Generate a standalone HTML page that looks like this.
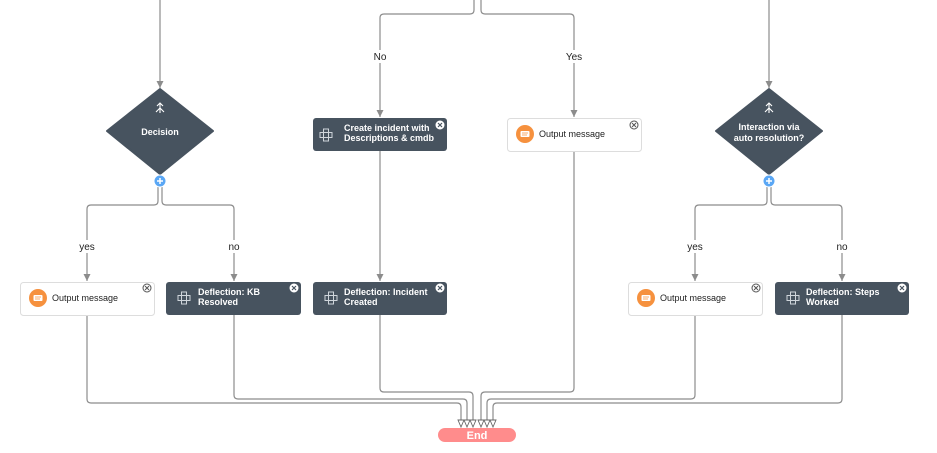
<!DOCTYPE html>
<html><head><style>
html,body{margin:0;padding:0;background:#fff;}
svg{display:block;font-family:"Liberation Sans",sans-serif;}
.l{fill:none;stroke:#8c8c8c;stroke-width:1.2;}
.lbl{font-size:10px;fill:#222;text-anchor:middle;}
.wt{font-size:9px;fill:#fff;font-weight:bold;}
.bt{font-size:9px;fill:#222;}
</style></head><body>
<svg width="937" height="453" viewBox="0 0 937 453" xmlns="http://www.w3.org/2000/svg">
<defs>
<marker id="a" markerWidth="8" markerHeight="8" refX="7" refY="4" orient="auto" markerUnits="userSpaceOnUse">
<path d="M0,0.5 L7,4 L0,7.5 z" fill="#8c8c8c"/></marker>
<g id="x"><circle r="4" fill="#fff" stroke="#555" stroke-width="1"/><path d="M-2,-2L2,2M2,-2L-2,2" stroke="#555" stroke-width="1"/></g>
<g id="xd"><circle r="4" fill="#fff" stroke="#fff"/><path d="M-2,-2L2,2M2,-2L-2,2" stroke="#47535f" stroke-width="1.2"/></g>
<g id="grid"><path d="M-2.5,-6H2.5V6H-2.5ZM-6,-2.5H6V2.5H-6Z" fill="none" stroke="#cfd5db" stroke-width="1"/></g>
<g id="msg"><circle r="9" fill="#f6913e"/><rect x="-4.5" y="-3" width="9" height="6" rx="1" fill="#fff"/><path d="M-3,-1H3M-3,1H2" stroke="#f6913e" stroke-width="0.7"/></g>
<g id="split"><path d="M0,6V-4M-3,-1L0,-4L3,-1M0,1L-4,5M0,1L4,5" fill="none" stroke="#fff" stroke-width="1.1"/></g>
<g id="plus"><circle r="6" fill="#5aa7f5" stroke="#fff" stroke-width="1"/><path d="M-3,0H3M0,-3V3" stroke="#fff" stroke-width="1.5"/></g>
</defs>

<path class="l" d="M160 0V88" marker-end="url(#a)"/>
<path class="l" d="M769 0V88" marker-end="url(#a)"/>
<path class="l" d="M474 0V10Q474 14 470 14H384Q380 14 380 18V117" marker-end="url(#a)"/>
<path class="l" d="M481 0V10Q481 14 485 14H570Q574 14 574 18V117" marker-end="url(#a)"/>
<rect x="370" y="50" width="20" height="13" fill="#fff"/><text class="lbl" x="380" y="60">No</text>
<rect x="562" y="50" width="24" height="13" fill="#fff"/><text class="lbl" x="574" y="60">Yes</text>

<path class="l" d="M158 185V201Q158 205 154 205H91Q87 205 87 209V281" marker-end="url(#a)"/>
<path class="l" d="M162 185V201Q162 205 166 205H230Q234 205 234 209V281" marker-end="url(#a)"/>
<path class="l" d="M767 185V201Q767 205 763 205H699Q695 205 695 209V281" marker-end="url(#a)"/>
<path class="l" d="M771 185V201Q771 205 775 205H838Q842 205 842 209V281" marker-end="url(#a)"/>
<rect x="77" y="240" width="20" height="13" fill="#fff"/><text class="lbl" x="87" y="250">yes</text>
<rect x="225" y="240" width="18" height="13" fill="#fff"/><text class="lbl" x="234" y="250">no</text>
<rect x="685" y="240" width="20" height="13" fill="#fff"/><text class="lbl" x="695" y="250">yes</text>
<rect x="833" y="240" width="18" height="13" fill="#fff"/><text class="lbl" x="842" y="250">no</text>
<path class="l" d="M380 151V281" marker-end="url(#a)"/>

<path class="l" d="M87 315V399Q87 403 91 403H457Q461 403 461 407V420"/>
<path class="l" d="M234 315V395Q234 399 238 399H463Q467 399 467 403V420"/>
<path class="l" d="M380 315V388Q380 392 384 392H469Q473 392 473 396V420"/>
<path class="l" d="M574 151V388Q574 392 570 392H485Q481 392 481 396V420"/>
<path class="l" d="M695 315V395Q695 399 691 399H491Q487 399 487 403V420"/>
<path class="l" d="M842 315V399Q842 403 838 403H497Q493 403 493 407V420"/>
<g fill="#fff" stroke="#666" stroke-width="0.9">
<path d="M458 420H464L461 427Z"/><path d="M464 420H470L467 427Z"/><path d="M470 420H476L473 427Z"/>
<path d="M478 420H484L481 427Z"/><path d="M484 420H490L487 427Z"/><path d="M490 420H496L493 427Z"/>
</g>
<rect x="438" y="428" width="78" height="14" rx="7" fill="#ff8c8c"/>
<text x="477" y="439" font-size="11" font-weight="bold" fill="#fff" text-anchor="middle">End</text>

<path d="M160 89L213 131L160 174L107 131Z" fill="#47535f" stroke="#47535f" stroke-linejoin="round" stroke-width="2"/>
<use href="#split" x="160" y="107"/>
<text class="wt" x="160" y="135" text-anchor="middle">Decision</text>
<use href="#plus" x="160" y="181"/>
<path d="M769 89L822 131L769 174L716 131Z" fill="#47535f" stroke="#47535f" stroke-linejoin="round" stroke-width="2"/>
<use href="#split" x="769" y="107"/>
<text class="wt" x="769" y="130" text-anchor="middle">Interaction via</text>
<text class="wt" x="769" y="141" text-anchor="middle">auto resolution?</text>
<use href="#plus" x="769" y="181"/>

<rect x="313" y="118" width="134" height="33" rx="3" fill="#47535f"/>
<use href="#grid" x="326" y="135"/>
<text class="wt" x="344" y="131">Create incident with</text>
<text class="wt" x="344" y="141">Descriptions &amp; cmdb</text>
<use href="#xd" x="440" y="125"/>

<rect x="507.5" y="118.5" width="134" height="33" rx="3" fill="#fff" stroke="#ddd"/>
<use href="#msg" x="525" y="134"/>
<text class="bt" x="539" y="137">Output message</text>
<use href="#x" x="634" y="125"/>

<rect x="20.5" y="282.5" width="134" height="33" rx="3" fill="#fff" stroke="#ddd"/>
<use href="#msg" x="38" y="298"/>
<text class="bt" x="52" y="301">Output message</text>
<use href="#x" x="147" y="288"/>

<rect x="166" y="282" width="135" height="33" rx="3" fill="#47535f"/>
<use href="#grid" x="184" y="298"/>
<text class="wt" x="198" y="295">Deflection: KB</text>
<text class="wt" x="198" y="305">Resolved</text>
<use href="#xd" x="294" y="288"/>

<rect x="313" y="282" width="134" height="33" rx="3" fill="#47535f"/>
<use href="#grid" x="331" y="298"/>
<text class="wt" x="344" y="295">Deflection: Incident</text>
<text class="wt" x="344" y="305">Created</text>
<use href="#xd" x="440" y="288"/>

<rect x="628.5" y="282.5" width="134" height="33" rx="3" fill="#fff" stroke="#ddd"/>
<use href="#msg" x="646" y="298"/>
<text class="bt" x="660" y="301">Output message</text>
<use href="#x" x="756" y="288"/>

<rect x="775" y="282" width="134" height="33" rx="3" fill="#47535f"/>
<use href="#grid" x="793" y="298"/>
<text class="wt" x="806" y="295">Deflection: Steps</text>
<text class="wt" x="806" y="305">Worked</text>
<use href="#xd" x="902" y="288"/>
</svg>
</body></html>
